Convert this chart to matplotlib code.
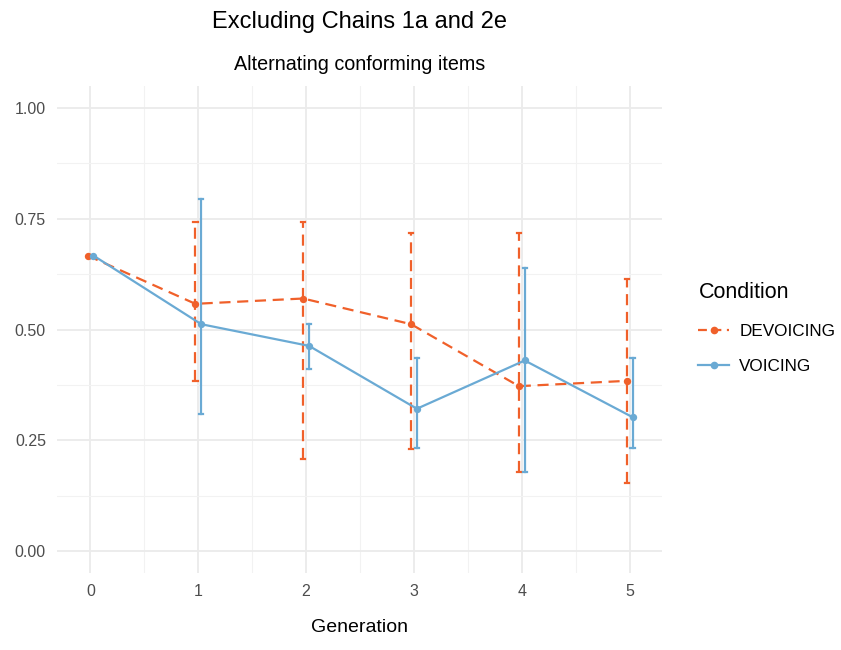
import matplotlib
matplotlib.use("Agg")
import matplotlib.pyplot as plt
from matplotlib.lines import Line2D
import numpy as np

plt.rcParams['font.family'] = ['Liberation Sans', 'DejaVu Sans']

generations = [0, 1, 2, 3, 4, 5]
devoicing_mean = [0.667, 0.558, 0.570, 0.512, 0.372, 0.384]
devoicing_lo = [0.667, 0.384, 0.207, 0.231, 0.179, 0.154]
devoicing_hi = [0.667, 0.743, 0.743, 0.718, 0.718, 0.615]
voicing_mean = [0.667, 0.512, 0.463, 0.321, 0.430, 0.302]
voicing_lo = [0.667, 0.309, 0.410, 0.232, 0.179, 0.232]
voicing_hi = [0.667, 0.795, 0.512, 0.435, 0.640, 0.435]
y_ticks = [0.00, 0.25, 0.50, 0.75, 1.00]
y_tick_labels = ["0.00", "0.25", "0.50", "0.75", "1.00"]

c_dev = '#F0602A'
c_voi = '#6AAAD4'

fig = plt.figure(figsize=(8.41, 6.5), dpi=100)
ax = fig.add_axes([57/841, 1 - 573/650, (662-57)/841, (573-86)/650])

gx = np.array(generations, dtype=float)
dodge = 0.027
xd = gx - dodge
xv = gx + dodge

def draw(x, m, lo, hi, color, dashed):
    m = np.array(m); lo = np.array(lo); hi = np.array(hi)
    kw = dict(color=color, lw=1.6, zorder=3)
    if dashed:
        kw['dashes'] = (5, 3)
    ax.plot(x, m, **kw)
    for xi, l, h in zip(x, lo, hi):
        if h - l <= 0:
            continue
        ax.plot([xi, xi], [l, h], **kw)
        for yy in (l, h):
            ax.plot([xi - 0.02, xi + 0.02], [yy, yy], color=color, lw=1.6, zorder=3)
    ax.scatter(x, m, s=28, color=color, zorder=4, linewidths=0)

draw(xd, devoicing_mean, devoicing_lo, devoicing_hi, c_dev, True)
draw(xv, voicing_mean, voicing_lo, voicing_hi, c_voi, False)

ax.set_xlim(-0.31, 5.30)
ax.set_ylim(-0.05, 1.05)
ax.set_yticks(y_ticks)
ax.set_yticklabels(y_tick_labels)
ax.set_xticks(generations)
ax.set_xticklabels([str(g) for g in generations])
ax.set_yticks([0.125, 0.375, 0.625, 0.875], minor=True)
ax.set_xticks([0.5, 1.5, 2.5, 3.5, 4.5], minor=True)
ax.grid(which='major', color='#EBEBEB', lw=1.3)
ax.grid(which='minor', color='#F2F2F2', lw=0.8)
ax.set_axisbelow(True)
for s in ax.spines.values():
    s.set_visible(False)
ax.tick_params(which='both', length=0, labelsize=11.5, labelcolor='#4D4D4D', pad=8)

ax.set_xlabel("Generation", fontsize=14, labelpad=14)
fig.text(360/841, 1 - 22/650, "Excluding Chains 1a and 2e", ha='center', va='center', fontsize=17)
fig.text(360/841, 1 - 64/650, "Alternating conforming items", ha='center', va='center', fontsize=14.2)

handles = [
    Line2D([0], [0], color=c_dev, lw=1.6, dashes=(4, 2.5), marker='o', markersize=5.5, markeredgewidth=0),
    Line2D([0], [0], color=c_voi, lw=1.6, marker='o', markersize=5.5, markeredgewidth=0),
]
leg = fig.legend(handles, ["DEVOICING", "VOICING"], title="Condition",
                 loc='upper left', bbox_to_anchor=(683/841, 1 - 267/650),
                 frameon=False, fontsize=12.3, title_fontsize=15.5,
                 handlelength=1.8, handletextpad=0.6, labelspacing=1.2, alignment='left')

fig.savefig("out.png", dpi=100)
